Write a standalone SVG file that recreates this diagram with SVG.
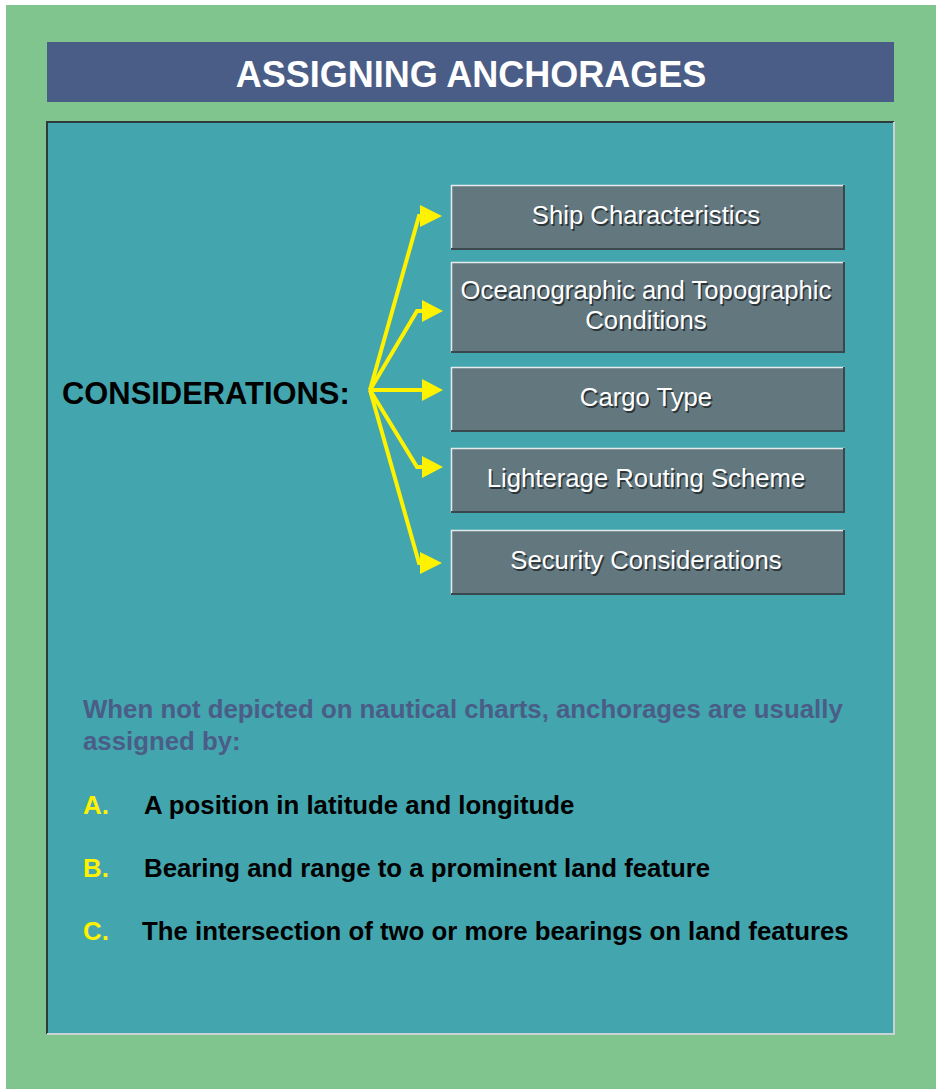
<svg xmlns="http://www.w3.org/2000/svg" width="936" height="1089" viewBox="0 0 936 1089">
  <defs>
    <style>
      .box { fill: #63777F; }
      .hi { stroke: #E6ECEE; stroke-width: 1.5; fill: none; }
      .lo { stroke: #3A474C; stroke-width: 2; fill: none; }
      .lbl { font-family: "Liberation Sans", Arial, sans-serif; font-size: 25.7px; fill: #FFFFFF; text-anchor: middle; }
      .shadow { font-family: "Liberation Sans", Arial, sans-serif; font-size: 25.7px; fill: #2B3538; text-anchor: middle; }
      .conn { stroke: #FFF200; stroke-width: 4; fill: none; stroke-linejoin: miter; }
      .head { fill: #FFF200; }
      .bold { font-family: "Liberation Sans", Arial, sans-serif; font-weight: bold; }
    </style>
  </defs>

  <!-- page background -->
  <rect x="0" y="0" width="936" height="1089" fill="#FFFFFF"/>
  <rect x="6" y="5" width="930" height="1084" fill="#80C48E"/>

  <!-- title bar -->
  <g id="title">
    <rect x="47" y="42" width="847" height="60" fill="#4A5D87"/>
    <text x="471" y="87" class="bold" font-size="36" fill="#FFFFFF" text-anchor="middle">ASSIGNING ANCHORAGES</text>
  </g>

  <!-- main panel -->
  <g id="panel">
    <rect x="47" y="122" width="847" height="912" fill="#43A5AE"/>
    <path d="M47 1034 V122 H894" stroke="#2E3A3C" stroke-width="2" fill="none"/>
    <path d="M47 1034 H894 V122" stroke="#C9D2D4" stroke-width="2" fill="none"/>
  </g>

  <g id="considerations">
    <text x="62" y="404" class="bold" font-size="30.9" fill="#000000">CONSIDERATIONS:</text>
  </g>

  <!-- branching arrows -->
  <g id="connectors">
    <path class="conn" d="M370 390 L419 216 H424"/>
    <path class="conn" d="M370 390 L417 311 H424"/>
    <path class="conn" d="M370 390 H424"/>
    <path class="conn" d="M370 390 L417 467 H424"/>
    <path class="conn" d="M370 390 L419 563 H424"/>
    <polygon class="head" points="420,205 442,216 420,227"/>
    <polygon class="head" points="422,300 443,311 422,322"/>
    <polygon class="head" points="422,379 443,390 422,401"/>
    <polygon class="head" points="422,456 443,467 422,478"/>
    <polygon class="head" points="420,552 442,563 420,574"/>
  </g>

  <g id="ship">
    <rect class="box" x="451" y="185" width="394" height="65"/>
    <path class="hi" d="M451.5 250 V185.5 H845"/>
    <path class="lo" d="M451 249 H844 V185"/>
    <text class="shadow" x="647.5" y="225.5">Ship Characteristics</text>
    <text class="lbl" x="646" y="224">Ship Characteristics</text>
  </g>

  <g id="ocean">
    <rect class="box" x="451" y="262" width="394" height="91"/>
    <path class="hi" d="M451.5 353 V262.5 H845"/>
    <path class="lo" d="M451 352 H844 V262"/>
    <text class="shadow" x="647.5" y="300.5">Oceanographic and Topographic</text>
    <text class="lbl" x="646" y="299">Oceanographic and Topographic</text>
    <text class="shadow" x="647.5" y="330.5">Conditions</text>
    <text class="lbl" x="646" y="329">Conditions</text>
  </g>

  <g id="cargo">
    <rect class="box" x="451" y="367" width="394" height="65"/>
    <path class="hi" d="M451.5 432 V367.5 H845"/>
    <path class="lo" d="M451 431 H844 V367"/>
    <text class="shadow" x="647.5" y="407.5">Cargo Type</text>
    <text class="lbl" x="646" y="406">Cargo Type</text>
  </g>

  <g id="lighterage">
    <rect class="box" x="451" y="448" width="394" height="65"/>
    <path class="hi" d="M451.5 513 V448.5 H845"/>
    <path class="lo" d="M451 512 H844 V448"/>
    <text class="shadow" x="647.5" y="488.5">Lighterage Routing Scheme</text>
    <text class="lbl" x="646" y="487">Lighterage Routing Scheme</text>
  </g>

  <g id="security">
    <rect class="box" x="451" y="530" width="394" height="65"/>
    <path class="hi" d="M451.5 595 V530.5 H845"/>
    <path class="lo" d="M451 594 H844 V530"/>
    <text class="shadow" x="647.5" y="570.5">Security Considerations</text>
    <text class="lbl" x="646" y="569">Security Considerations</text>
  </g>

  <!-- assignment methods -->
  <g id="methods" class="bold" font-size="25.8">
    <text x="83" y="718" fill="#4A5D87">When not depicted on nautical charts, anchorages are usually</text>
    <text x="83" y="750" fill="#4A5D87">assigned by:</text>
    <text x="83" y="814" fill="#FFF200">A.</text>
    <text x="144" y="814" fill="#000000">A position in latitude and longitude</text>
    <text x="83" y="877" fill="#FFF200">B.</text>
    <text x="144" y="877" fill="#000000">Bearing and range to a prominent land feature</text>
    <text x="83" y="940" fill="#FFF200">C.</text>
    <text x="142" y="940" fill="#000000">The intersection of two or more bearings on land features</text>
  </g>
</svg>
